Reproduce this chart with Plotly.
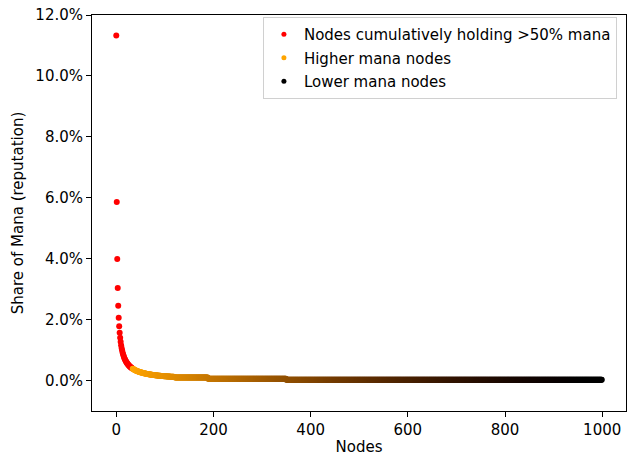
import plotly.graph_objects as go

# ---------------- data (values in percent) ----------------
x_tick_vals = [0, 200, 400, 600, 800, 1000]
y_tick_vals = [0, 2, 4, 6, 8, 10, 12]
y_tick_text = ["0.0%", "2.0%", "4.0%", "6.0%", "8.0%", "10.0%", "12.0%"]

# nodes that cumulatively hold >50% of the mana (nodes 0..33)
majority_share_pct = [
    11.330, 5.865, 3.990, 3.036, 2.456, 2.065, 1.784, 1.571, 1.405, 1.271,
    1.161, 1.069, 0.991, 0.924, 0.865, 0.813, 0.768, 0.727, 0.691, 0.658,
    0.628, 0.601, 0.576, 0.553, 0.532, 0.513, 0.495, 0.478, 0.462, 0.448,
    0.434, 0.421, 0.409, 0.397,
]

# remaining nodes (34..999), from higher to lower mana
rest_share_pct = [
    0.387, 0.376, 0.367, 0.358, 0.349, 0.341,
    0.333, 0.325, 0.318, 0.311, 0.305, 0.298, 0.292, 0.286, 0.281, 0.276,
    0.270, 0.266, 0.261, 0.256, 0.252, 0.247, 0.243, 0.239, 0.236, 0.232,
    0.228, 0.225, 0.221, 0.218, 0.215, 0.212, 0.209, 0.206, 0.203, 0.200,
    0.198, 0.195, 0.192, 0.190, 0.188, 0.185, 0.183, 0.181, 0.178, 0.176,
    0.174, 0.172, 0.170, 0.168, 0.166, 0.165, 0.163, 0.161, 0.159, 0.158,
    0.156, 0.154, 0.153, 0.151, 0.150, 0.148, 0.147, 0.145, 0.144, 0.143,
    0.141, 0.140, 0.139, 0.137, 0.136, 0.135, 0.134, 0.133, 0.131, 0.130,
    0.129, 0.128, 0.127, 0.126, 0.125, 0.124, 0.123, 0.122, 0.121, 0.120,
    0.119,
    0.096, 0.096, 0.096, 0.096, 0.096, 0.096, 0.096, 0.096, 0.096, 0.096, 0.096, 0.096, 0.096, 0.096, 0.096, 0.096, 0.096, 0.096, 0.096, 0.096,
    0.096, 0.096, 0.096, 0.096, 0.096, 0.096, 0.096, 0.096, 0.096, 0.096, 0.096, 0.096, 0.096, 0.096, 0.096, 0.096, 0.096, 0.096, 0.096, 0.096,
    0.096, 0.096, 0.096, 0.096, 0.096, 0.096, 0.096, 0.096, 0.096, 0.096, 0.096, 0.096, 0.096, 0.096, 0.096, 0.096, 0.096, 0.096, 0.096, 0.096,
    0.096, 0.096, 0.096, 0.096, 0.096, 0.096, 0.096, 0.096,
    0.057, 0.057, 0.057, 0.057, 0.057, 0.057, 0.057, 0.057, 0.057, 0.057, 0.057, 0.057, 0.057, 0.057, 0.057, 0.057, 0.057, 0.057, 0.057, 0.057,
    0.057, 0.057, 0.057, 0.057, 0.057, 0.057, 0.057, 0.057, 0.057, 0.057, 0.057, 0.057, 0.057, 0.057, 0.057, 0.057, 0.057, 0.057, 0.057, 0.057,
    0.057, 0.057, 0.057, 0.057, 0.057, 0.057, 0.057, 0.057, 0.057, 0.057, 0.057, 0.057, 0.057, 0.057, 0.057, 0.057, 0.057, 0.057, 0.057, 0.057,
    0.057, 0.057, 0.057, 0.057, 0.057, 0.057, 0.057, 0.057, 0.057, 0.057, 0.057, 0.057, 0.057, 0.057, 0.057, 0.057, 0.057, 0.057, 0.057, 0.057,
    0.057, 0.057, 0.057, 0.057, 0.057, 0.057, 0.057, 0.057, 0.057, 0.057, 0.057, 0.057, 0.057, 0.057, 0.057, 0.057, 0.057, 0.057, 0.057, 0.057,
    0.057, 0.057, 0.057, 0.057, 0.057, 0.057, 0.057, 0.057, 0.057, 0.057, 0.057, 0.057, 0.057, 0.057, 0.057, 0.057, 0.057, 0.057, 0.057, 0.057,
    0.057, 0.057, 0.057, 0.057, 0.057, 0.057, 0.057, 0.057, 0.057, 0.057, 0.057, 0.057, 0.057, 0.057, 0.057, 0.057, 0.057, 0.057, 0.057, 0.057,
    0.057, 0.057, 0.057, 0.057, 0.057, 0.057, 0.057, 0.057, 0.057, 0.057, 0.057, 0.057, 0.057, 0.057, 0.057, 0.057, 0.057, 0.057, 0.057, 0.057,
    0.057,
    0.025, 0.025, 0.025, 0.025, 0.025, 0.025, 0.025, 0.025, 0.025, 0.025, 0.025, 0.025, 0.025, 0.025, 0.025, 0.025, 0.025, 0.025, 0.025, 0.025,
    0.025, 0.025, 0.025, 0.025, 0.025, 0.025, 0.025, 0.025, 0.025, 0.025, 0.025, 0.025, 0.025, 0.025, 0.025, 0.025, 0.025, 0.025, 0.025, 0.025,
    0.025, 0.025, 0.025, 0.025, 0.025, 0.025, 0.025, 0.025, 0.025, 0.025, 0.025, 0.025, 0.025, 0.025, 0.025, 0.025, 0.025, 0.025, 0.025, 0.025,
    0.025, 0.025, 0.025, 0.025, 0.025, 0.025, 0.025, 0.025, 0.025, 0.025, 0.025, 0.025, 0.025, 0.025, 0.025, 0.025, 0.025, 0.025, 0.025, 0.025,
    0.025, 0.025, 0.025, 0.025, 0.025, 0.025, 0.025, 0.025, 0.025, 0.025, 0.025, 0.025, 0.025, 0.025, 0.025, 0.025, 0.025, 0.025, 0.025, 0.025,
    0.025, 0.025, 0.025, 0.025, 0.025, 0.025, 0.025, 0.025, 0.025, 0.025, 0.025, 0.025, 0.025, 0.025, 0.025, 0.025, 0.025, 0.025, 0.025, 0.025,
    0.025, 0.025, 0.025, 0.025, 0.025, 0.025, 0.025, 0.025, 0.025, 0.025, 0.025, 0.025, 0.025, 0.025, 0.025, 0.025, 0.025, 0.025, 0.025, 0.025,
    0.025, 0.025, 0.025, 0.025, 0.025, 0.025, 0.025, 0.025, 0.025, 0.025, 0.025, 0.025, 0.025, 0.025, 0.025, 0.025, 0.025, 0.025, 0.025, 0.025,
    0.025, 0.025, 0.025, 0.025, 0.025, 0.025, 0.025, 0.025, 0.025, 0.025, 0.025, 0.025, 0.025, 0.025, 0.025, 0.025, 0.025, 0.025, 0.025, 0.025,
    0.025, 0.025, 0.025, 0.025, 0.025, 0.025, 0.025, 0.025, 0.025, 0.025, 0.025, 0.025, 0.025, 0.025, 0.025, 0.025, 0.025, 0.025, 0.025, 0.025,
    0.025, 0.025, 0.025, 0.025, 0.025, 0.025, 0.025, 0.025, 0.025, 0.025, 0.025, 0.025, 0.025, 0.025, 0.025, 0.025, 0.025, 0.025, 0.025, 0.025,
    0.025, 0.025, 0.025, 0.025, 0.025, 0.025, 0.025, 0.025, 0.025, 0.025, 0.025, 0.025, 0.025, 0.025, 0.025, 0.025, 0.025, 0.025, 0.025, 0.025,
    0.025, 0.025, 0.025, 0.025, 0.025, 0.025, 0.025, 0.025, 0.025, 0.025, 0.025, 0.025, 0.025, 0.025, 0.025, 0.025, 0.025, 0.025, 0.025, 0.025,
    0.025, 0.025, 0.025, 0.025, 0.025, 0.025, 0.025, 0.025, 0.025, 0.025, 0.025, 0.025, 0.025, 0.025, 0.025, 0.025, 0.025, 0.025, 0.025, 0.025,
    0.025, 0.025, 0.025, 0.025, 0.025, 0.025, 0.025, 0.025, 0.025, 0.025, 0.025, 0.025, 0.025, 0.025, 0.025, 0.025, 0.025, 0.025, 0.025, 0.025,
    0.025, 0.025, 0.025, 0.025, 0.025, 0.025, 0.025, 0.025, 0.025, 0.025, 0.025, 0.025, 0.025, 0.025, 0.025, 0.025, 0.025, 0.025, 0.025, 0.025,
    0.025, 0.025, 0.025, 0.025, 0.025, 0.025, 0.025, 0.025, 0.025, 0.025, 0.025, 0.025, 0.025, 0.025, 0.025, 0.025, 0.025, 0.025, 0.025, 0.025,
    0.025, 0.025, 0.025, 0.025, 0.025, 0.025, 0.025, 0.025, 0.025, 0.025, 0.025, 0.025, 0.025, 0.025, 0.025, 0.025, 0.025, 0.025, 0.025, 0.025,
    0.025, 0.025, 0.025, 0.025, 0.025, 0.025, 0.025, 0.025, 0.025, 0.025, 0.025, 0.025, 0.025, 0.025, 0.025, 0.025, 0.025, 0.025, 0.025, 0.025,
    0.025, 0.025, 0.025, 0.025, 0.025, 0.025, 0.025, 0.025, 0.025, 0.025, 0.025, 0.025, 0.025, 0.025, 0.025, 0.025, 0.025, 0.025, 0.025, 0.025,
    0.025, 0.025, 0.025, 0.025, 0.025, 0.025, 0.025, 0.025, 0.025, 0.025, 0.025, 0.025, 0.025, 0.025, 0.025, 0.025, 0.025, 0.025, 0.025, 0.025,
    0.025, 0.025, 0.025, 0.025, 0.025, 0.025, 0.025, 0.025, 0.025, 0.025, 0.025, 0.025, 0.025, 0.025, 0.025, 0.025, 0.025, 0.025, 0.025, 0.025,
    0.025, 0.025, 0.025, 0.025, 0.025, 0.025, 0.025, 0.025, 0.025, 0.025, 0.025, 0.025, 0.025, 0.025, 0.025, 0.025, 0.025, 0.025, 0.025, 0.025,
    0.025, 0.025, 0.025, 0.025, 0.025, 0.025, 0.025, 0.025, 0.025, 0.025, 0.025, 0.025, 0.025, 0.025, 0.025, 0.025, 0.025, 0.025, 0.025, 0.025,
    0.025, 0.025, 0.025, 0.025, 0.025, 0.025, 0.025, 0.025, 0.025, 0.025, 0.025, 0.025, 0.025, 0.025, 0.025, 0.025, 0.025, 0.025, 0.025, 0.025,
    0.025, 0.025, 0.025, 0.025, 0.025, 0.025, 0.025, 0.025, 0.025, 0.025, 0.025, 0.025, 0.025, 0.025, 0.025, 0.025, 0.025, 0.025, 0.025, 0.025,
    0.025, 0.025, 0.025, 0.025, 0.025, 0.025, 0.025, 0.025, 0.025, 0.025, 0.025, 0.025, 0.025, 0.025, 0.025, 0.025, 0.025, 0.025, 0.025, 0.025,
    0.025, 0.025, 0.025, 0.025, 0.025, 0.025, 0.025, 0.025, 0.025, 0.025, 0.025, 0.025, 0.025, 0.025, 0.025, 0.025, 0.025, 0.025, 0.025, 0.025,
    0.025, 0.025, 0.025, 0.025, 0.025, 0.025, 0.025, 0.025, 0.025, 0.025, 0.025, 0.025, 0.025, 0.025, 0.025, 0.025, 0.025, 0.025, 0.025, 0.025,
    0.025, 0.025, 0.025, 0.025, 0.025, 0.025, 0.025, 0.025, 0.025, 0.025, 0.025, 0.025, 0.025, 0.025, 0.025, 0.025, 0.025, 0.025, 0.025, 0.025,
    0.025, 0.025, 0.025, 0.025, 0.025, 0.025, 0.025, 0.025, 0.025, 0.025, 0.025, 0.025, 0.025, 0.025, 0.025, 0.025, 0.025, 0.025, 0.025, 0.025,
    0.025, 0.025, 0.025, 0.025, 0.025, 0.025, 0.025, 0.025, 0.025, 0.025, 0.025, 0.025, 0.025, 0.025, 0.025, 0.025, 0.025, 0.025, 0.025, 0.025,
    0.025, 0.025, 0.025, 0.025, 0.025, 0.025, 0.025, 0.025, 0.025, 0.025,
]

legend_labels = ["Nodes cumulatively holding >50% mana", "Higher mana nodes", "Lower mana nodes"]

# ---------------- styling ----------------
FONT = "DejaVu Sans"
FS = 15
RED = "#ff0000"
ORANGE_RGB = (255, 165, 0)
legend_colors = [RED, "#ffa500", "#000000"]

majority_x = list(range(len(majority_share_pct)))
rest_x = list(range(len(majority_share_pct), len(majority_share_pct) + len(rest_share_pct)))

# orange -> black shading along the remaining nodes
n_rest = len(rest_share_pct)
rest_colors = []
for i in range(n_rest):
    s = 1 - i / (n_rest - 1)
    r = round(ORANGE_RGB[0] * s ** 1.4)
    g = round(ORANGE_RGB[1] * s ** 1.8)
    rest_colors.append(f"rgb({r},{g},0)")

fig = go.Figure()
fig.add_trace(go.Scatter(
    x=majority_x, y=majority_share_pct, mode="markers",
    marker=dict(color=RED, size=6, line=dict(width=0)),
    showlegend=False, hoverinfo="skip",
))
fig.add_trace(go.Scatter(
    x=rest_x, y=rest_share_pct, mode="markers",
    marker=dict(color=rest_colors, size=6, line=dict(width=0)),
    showlegend=False, hoverinfo="skip",
))
for i, (lab, col) in enumerate(zip(legend_labels, legend_colors)):
    fig.add_trace(go.Scatter(
        x=[None], y=[None], mode="markers", name=lab,
        marker=dict(color=col, size=5, line=dict(width=0)),
        legendgroup=f"g{i}", showlegend=True,
    ))

x_span = max(rest_x) - min(majority_x)
x_range = [min(majority_x) - 0.05 * x_span, max(rest_x) + 0.05 * x_span]

axis_common = dict(
    showline=True, linecolor="black", linewidth=1, mirror=True,
    ticks="outside", ticklen=5, tickwidth=1, tickcolor="black",
    showgrid=False, zeroline=False,
    tickfont=dict(family=FONT, size=FS, color="black"),
)

fig.update_layout(
    width=628, height=456,
    margin=dict(l=92, r=2, t=15, b=45),
    paper_bgcolor="white", plot_bgcolor="white",
    font=dict(family=FONT, size=FS, color="black"),
    xaxis=dict(
        range=x_range, tickvals=x_tick_vals,
        title=dict(text="Nodes", font=dict(family=FONT, size=FS, color="black"), standoff=5),
        **axis_common,
    ),
    yaxis=dict(
        range=[-1, 12], tickvals=y_tick_vals, ticktext=y_tick_text,
        title=dict(text="Share of Mana (reputation)", font=dict(family=FONT, size=FS, color="black"), standoff=8),
        **axis_common,
    ),
    legend=dict(
        x=0.983, y=0.995, xanchor="right", yanchor="top",
        bgcolor="white", bordercolor="#d0d0d0", borderwidth=1,
        font=dict(family=FONT, size=FS, color="black"),
        traceorder="grouped", tracegroupgap=1,
    ),
)

fig.write_html("out.html")
